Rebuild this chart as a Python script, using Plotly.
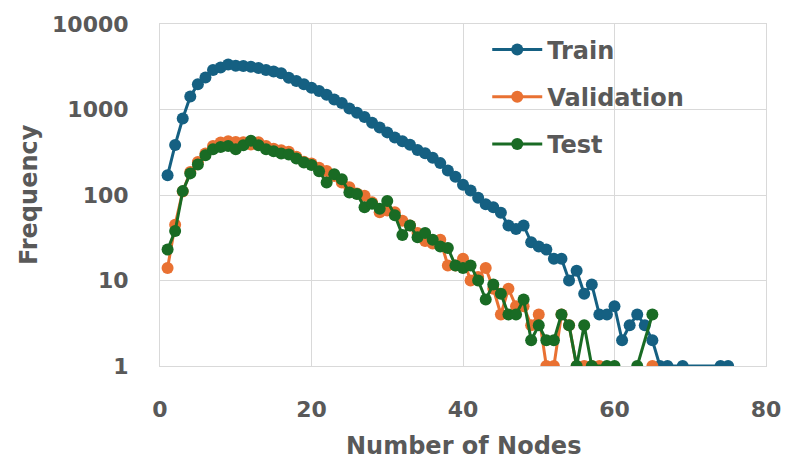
import plotly.graph_objects as go

# ---------------- data ----------------
train_nodes = list(range(1, 68)) + [69, 74, 75]
train_freq = [170, 385, 785, 1420, 1980, 2370, 2900, 3090, 3350, 3250,
              3220, 3170, 3050, 2900, 2780, 2650, 2350, 2150, 1970, 1800,
              1650, 1490, 1310, 1190, 1030, 915, 815, 700, 615, 540,
              470, 425, 388, 337, 308, 272, 236, 194, 163, 132,
              113, 93, 78, 72, 62, 44, 40, 44, 28, 25,
              23, 18, 18, 10, 13, 7, 9, 4, 4, 5,
              2, 3, 4, 3, 2, 1, 1, 1, 1, 1]

val_nodes = list(range(1, 66))
val_freq = [14, 45, 110, 186, 244, 305, 375, 410, 425, 417,
            415, 390, 415, 375, 348, 333, 320, 280, 245, 233,
            209, 191, 167, 140, 123, 104, 98, 82, 63, 66,
            63, 50, 44, 36, 29, 27, 30, 15, 15, 18,
            10, 11, 14, 8, 4, 8, 5, 5, 3, 4,
            1, 1, 4, 3, 1, 1, 1, 1, None, None,
            None, None, None, None, 1]

test_nodes = list(range(1, 58)) + [59, 60, 61, 62, 63, 65]
test_freq = [23, 38, 111, 179, 227, 292, 343, 365, 375, 343,
             381, 430, 382, 343, 325, 305, 297, 267, 240, 225,
             190, 140, 175, 153, 107, 103, 72, 79, 69, 85,
             58, 34, 44, 32, 36, 30, 25, 24, 15, 14,
             15, 10, 6, 9, 7, 4, 4, 6, 2, 3,
             2, 2, 4, 3, 1, 3, 1,
             1, 1, None, None, 1, 4]

series_names = ["Train", "Validation", "Test"]
series_colors = ["#156082", "#E97132", "#196B24"]

y_tickvals = [1, 10, 100, 1000, 10000]
y_ticktext = ["1", "10", "100", "1000", "10000"]
x_tickvals = [0, 20, 40, 60, 80]

x_title = "Number of Nodes"
y_title = "Frequency"

# ---------------- figure ----------------
FONT = "DejaVu Sans"
TXT = "#595959"
GRID = "#D9D9D9"

fig = go.Figure()
for name, xs, ys, col in zip(series_names,
                             [train_nodes, val_nodes, test_nodes],
                             [train_freq, val_freq, test_freq],
                             series_colors):
    fig.add_trace(go.Scatter(
        x=xs, y=ys, name=name, mode="lines+markers",
        line=dict(color=col, width=3),
        marker=dict(color=col, size=12),
        connectgaps=False, legendgroup=name,
    ))

fig.update_layout(
    width=793, height=462,
    margin=dict(l=160, r=22, t=22, b=96),
    paper_bgcolor="white", plot_bgcolor="white",
    font=dict(family=FONT, color=TXT, size=22, weight="bold"),
    showlegend=True,
    legend=dict(
        x=0.54, y=0.99, xanchor="left", yanchor="top",
        bgcolor="rgba(0,0,0,0)", borderwidth=0,
        font=dict(family=FONT, size=24, color=TXT, weight="bold"),
        tracegroupgap=13, itemwidth=50,
    ),
    xaxis=dict(
        range=[0, 80], tickvals=x_tickvals,
        showgrid=True, gridcolor=GRID, gridwidth=1,
        zeroline=False, showline=True, linecolor=GRID, linewidth=1, mirror=True,
        ticks="outside", ticklen=24, tickcolor="rgba(0,0,0,0)",
        tickfont=dict(family=FONT, size=22, color=TXT, weight="bold"),
    ),
    yaxis=dict(
        type="log", range=[0, 4],
        tickvals=y_tickvals, ticktext=y_ticktext,
        showgrid=True, gridcolor=GRID, gridwidth=1,
        zeroline=False, showline=True, linecolor=GRID, linewidth=1, mirror=True,
        ticks="outside", ticklen=26, tickcolor="rgba(0,0,0,0)",
        tickfont=dict(family=FONT, size=22, color=TXT, weight="bold"),
    ),
    annotations=[
        dict(text=x_title, xref="paper", yref="paper", x=0.5, y=-0.234,
             xanchor="center", yanchor="middle", showarrow=False,
             font=dict(family=FONT, size=24, color=TXT, weight="bold")),
        dict(text=y_title, xref="paper", yref="paper", x=-0.216, y=0.5,
             xanchor="center", yanchor="middle", textangle=-90, showarrow=False,
             font=dict(family=FONT, size=24, color=TXT, weight="bold")),
    ],
)

fig.write_html("out.html")
